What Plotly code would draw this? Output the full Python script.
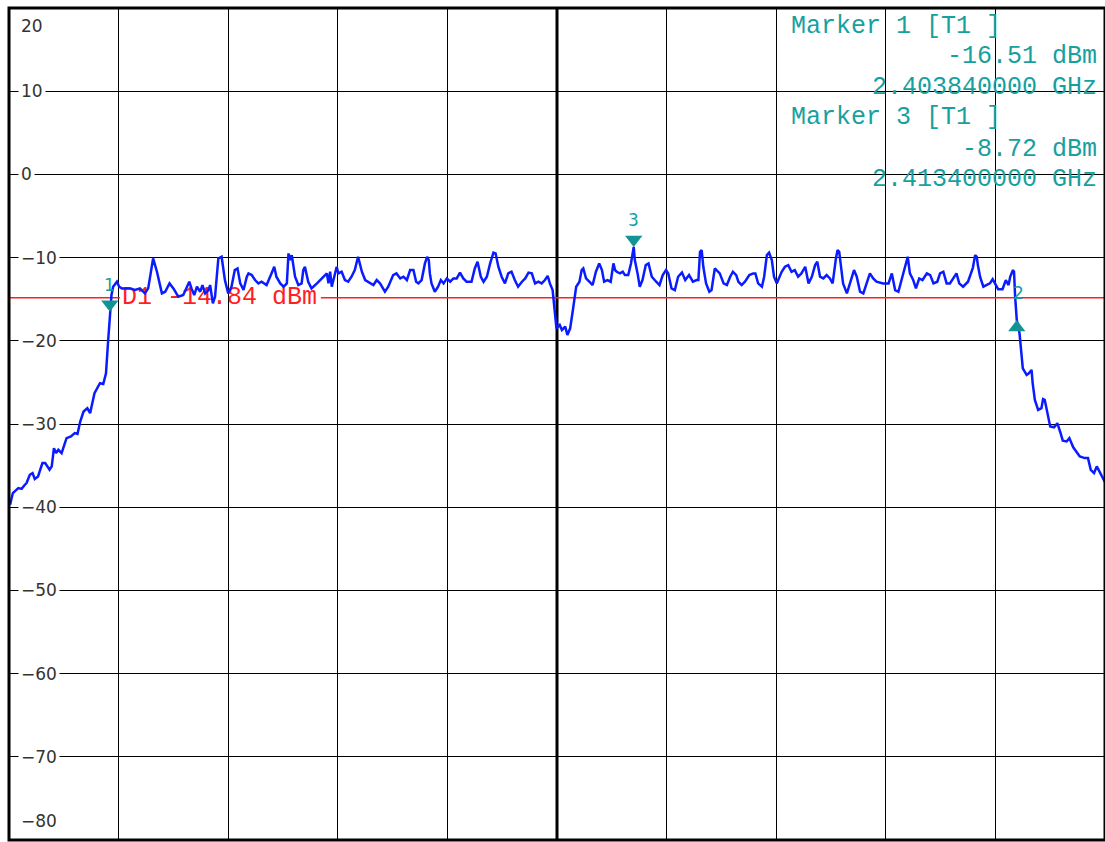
import plotly.graph_objects as go

# ---------------- data ----------------
START_MHZ = 2402.0
STOP_MHZ = 2422.0
CENTER_MHZ = 2412.0

freq_offset_mhz = [
    0.02, 0.07, 0.17, 0.23, 0.29, 0.32, 0.38, 0.43, 0.47, 0.53, 0.61, 0.66, 0.74, 0.78, 0.82, 0.86, 0.90, 0.96,
    1.05, 1.13, 1.20, 1.25, 1.30, 1.36, 1.43, 1.48, 1.56, 1.66, 1.72, 1.77, 1.81, 1.84, 1.87, 1.90, 1.97, 2.01,
    2.06, 2.21, 2.30, 2.39, 2.48, 2.54, 2.63, 2.70, 2.79, 2.85, 2.93, 3.00, 3.09, 3.18, 3.29, 3.33, 3.38, 3.43,
    3.49, 3.53, 3.58, 3.64, 3.67, 3.72, 3.76, 3.82, 3.88, 3.94, 4.00, 4.06, 4.12, 4.17, 4.22, 4.28, 4.34, 4.37,
    4.43, 4.49, 4.55, 4.61, 4.70, 4.79, 4.84, 4.88, 4.95, 5.01, 5.07, 5.10, 5.13, 5.16, 5.22, 5.28, 5.34, 5.37,
    5.40, 5.46, 5.52, 5.62, 5.71, 5.80, 5.83, 5.86, 5.89, 5.95, 5.98, 6.01, 6.07, 6.13, 6.19, 6.25, 6.31, 6.37,
    6.44, 6.50, 6.56, 6.65, 6.71, 6.77, 6.86, 6.92, 7.01, 7.07, 7.14, 7.20, 7.26, 7.32, 7.38, 7.43, 7.47, 7.53,
    7.59, 7.63, 7.66, 7.68, 7.71, 7.77, 7.83, 7.88, 7.93, 7.99, 8.05, 8.11, 8.17, 8.23, 8.29, 8.35, 8.44, 8.50,
    8.55, 8.61, 8.66, 8.72, 8.78, 8.84, 8.88, 8.93, 8.99, 9.05, 9.11, 9.17, 9.23, 9.29, 9.36, 9.42, 9.48, 9.54,
    9.60, 9.66, 9.72, 9.78, 9.83, 9.87, 9.92, 9.96, 9.99, 10.02, 10.05, 10.09, 10.15, 10.19, 10.24, 10.29, 10.35, 10.41,
    10.45, 10.48, 10.53, 10.59, 10.65, 10.71, 10.77, 10.82, 10.86, 10.92, 10.98, 11.03, 11.06, 11.09, 11.15, 11.20, 11.24, 11.30,
    11.35, 11.40, 11.42, 11.47, 11.51, 11.56, 11.62, 11.67, 11.73, 11.81, 11.87, 11.93, 11.99, 12.03, 12.09, 12.15, 12.21, 12.28,
    12.34, 12.41, 12.48, 12.55, 12.58, 12.61, 12.64, 12.67, 12.72, 12.78, 12.82, 12.88, 12.93, 12.97, 13.04, 13.10, 13.16, 13.21,
    13.27, 13.31, 13.37, 13.43, 13.51, 13.58, 13.62, 13.67, 13.74, 13.78, 13.83, 13.87, 13.92, 13.96, 14.01, 14.06, 14.10, 14.16,
    14.22, 14.28, 14.34, 14.40, 14.46, 14.53, 14.59, 14.65, 14.71, 14.75, 14.80, 14.86, 14.92, 14.98, 15.03, 15.09, 15.12, 15.15,
    15.20, 15.22, 15.29, 15.35, 15.42, 15.47, 15.53, 15.59, 15.65, 15.71, 15.77, 15.83, 15.95, 16.05, 16.11, 16.14, 16.17, 16.23,
    16.29, 16.35, 16.40, 16.44, 16.50, 16.55, 16.61, 16.67, 16.75, 16.81, 16.87, 16.94, 16.99, 17.05, 17.11, 17.17, 17.23, 17.29,
    17.34, 17.41, 17.50, 17.59, 17.63, 17.66, 17.68, 17.72, 17.78, 17.84, 17.90, 17.95, 17.99, 18.05, 18.13, 18.19, 18.24, 18.27,
    18.32, 18.34, 18.36, 18.39, 18.44, 18.47, 18.50, 18.57, 18.61, 18.66, 18.68, 18.72, 18.78, 18.84, 18.87, 18.90, 18.95, 19.00,
    19.07, 19.13, 19.18, 19.23, 19.30, 19.35, 19.42, 19.48, 19.54, 19.63, 19.69, 19.74, 19.80, 19.85, 19.91, 19.97, 20.00,
]

level_dbm = [
    -39.7, -38.3, -37.7, -37.8, -37.3, -37.1, -36.1, -35.9, -36.6, -36.3, -34.7, -34.7, -35.5, -35.1, -32.9, -33.5, -33.1, -33.5,
    -31.7, -31.5, -31.1, -31.2, -29.7, -28.5, -28.1, -28.7, -26.3, -25.1, -25.2, -23.9, -19.9, -16.51, -14.5, -13.5, -12.9, -13.5,
    -13.7, -13.7, -13.9, -13.7, -14.3, -13.7, -10.1, -11.7, -14.3, -14.1, -13.1, -13.7, -14.7, -14.5, -12.9, -13.7, -14.5, -13.5,
    -14.1, -13.3, -14.3, -13.9, -13.3, -15.5, -14.7, -10.1, -9.9, -12.7, -14.3, -13.5, -11.5, -11.3, -13.1, -13.9, -12.3, -11.9,
    -12.1, -12.7, -13.1, -12.9, -13.3, -11.9, -11.1, -12.3, -13.1, -13.5, -13.1, -9.5, -10.3, -9.7, -12.3, -13.3, -13.1, -11.5,
    -11.1, -12.9, -13.7, -13.1, -12.5, -11.9, -13.1, -11.7, -13.5, -11.9, -11.1, -11.9, -11.7, -12.7, -12.9, -12.3, -11.5, -9.9,
    -11.7, -12.7, -12.9, -13.3, -12.7, -13.1, -14.1, -13.5, -12.1, -11.9, -12.5, -12.3, -12.7, -11.5, -11.5, -12.9, -13.1, -12.7,
    -10.7, -9.9, -10.3, -11.9, -13.1, -14.1, -13.5, -12.7, -13.1, -12.5, -12.9, -12.5, -12.5, -11.8, -12.5, -12.9, -12.9, -11.3,
    -10.5, -12.3, -12.9, -12.3, -10.7, -9.4, -9.5, -11.1, -12.3, -13.1, -11.9, -11.7, -12.7, -13.5, -12.9, -12.5, -11.8, -11.9,
    -13.1, -12.9, -13.1, -12.7, -12.2, -13.1, -13.9, -16.7, -18.5, -18.3, -18.1, -18.7, -18.3, -19.3, -18.5, -16.3, -13.5, -12.9,
    -11.5, -11.3, -12.5, -12.9, -13.3, -11.7, -10.7, -11.5, -12.9, -12.7, -12.9, -10.7, -11.5, -11.7, -11.9, -11.7, -12.1, -12.1,
    -10.7, -8.72, -10.3, -11.9, -13.5, -12.7, -10.9, -10.7, -12.3, -12.9, -13.3, -12.1, -11.5, -11.9, -13.7, -13.9, -12.3, -11.8,
    -12.7, -12.1, -12.9, -12.7, -12.7, -9.3, -9.1, -11.1, -13.1, -14.1, -13.9, -11.3, -11.7, -11.9, -13.1, -13.3, -12.3, -11.7,
    -12.1, -12.9, -13.3, -12.9, -12.1, -11.9, -11.9, -13.1, -13.5, -12.3, -9.7, -9.4, -10.3, -12.3, -13.1, -12.3, -11.7, -11.1,
    -10.9, -11.7, -11.5, -12.3, -11.9, -11.1, -13.1, -12.3, -10.9, -10.5, -12.3, -12.5, -12.1, -12.5, -13.1, -10.1, -9.1, -9.3,
    -11.9, -13.1, -14.3, -12.9, -11.5, -12.3, -14.1, -14.3, -13.1, -11.9, -12.5, -12.9, -13.1, -13.1, -11.9, -13.1, -13.9, -14.1,
    -12.7, -11.1, -9.9, -11.9, -12.7, -13.7, -12.5, -12.7, -11.9, -12.1, -13.1, -12.9, -11.9, -11.7, -13.1, -13.1, -12.5, -11.9,
    -13.1, -13.5, -12.9, -11.2, -9.7, -9.9, -10.9, -12.3, -13.5, -13.3, -13.1, -12.6, -13.1, -13.8, -13.8, -12.7, -13.3, -12.3,
    -11.5, -11.7, -14.7, -17.5, -19.1, -21.5, -23.3, -24.1, -23.9, -23.5, -25.1, -27.1, -28.3, -28.1, -27.0, -27.1, -28.9, -30.3,
    -30.4, -29.9, -30.9, -32.0, -32.1, -31.7, -32.8, -33.4, -33.9, -34.1, -34.1, -35.5, -35.9, -35.1, -35.9, -36.7, -37.0,
]

marker_labels = ["1", "2", "3"]
marker_freq_mhz = [2403.84, 2420.39, 2413.40]
marker_level_dbm = [-16.51, -17.5, -8.72]
marker_pointing = ["down", "up", "down"]

display_line_dbm = -14.84
display_line_label = "D1 -14.84 dBm"

readout_lines = ["Marker 1 [T1 ]", "-16.51 dBm", "2.403840000 GHz",
                 "Marker 3 [T1 ]", "-8.72 dBm", "2.413400000 GHz"]
readout_align = ["left", "right", "right", "left", "right", "right"]

y_tick_values = [20, 10, 0, -10, -20, -30, -40, -50, -60, -70, -80]
y_tick_labels = ["20", "10", "0", "\u221210", "\u221220", "\u221230", "\u221240",
                 "\u221250", "\u221260", "\u221270", "\u221280"]

# ---------------- style / geometry ----------------
W, H = 1105, 842
ML, MR, MT, MB = 9, 0, 8, 2
PLOT_W = W - ML - MR
PLOT_H = H - MT - MB
Y_MIN, Y_MAX = -80, 20
PX_PER_DB = PLOT_H / (Y_MAX - Y_MIN)
PX_PER_MHZ = PLOT_W / (STOP_MHZ - START_MHZ)

TEAL = "#17a0a0"
TEAL_DARK = "#139494"
BLUE = "#0a1cff"
RED = "#ff1f1f"
MONO = "Liberation Mono, DejaVu Sans Mono, monospace"
SANS = "DejaVu Sans, Arial, sans-serif"

freq_mhz = [START_MHZ + f for f in freq_offset_mhz]

fig = go.Figure()

# display line D1 (with gap where its label sits)
label_x = 2404.06
label_chars = len(display_line_label)
gap_start = label_x - 2 / PX_PER_MHZ
gap_end = label_x + (label_chars * 15 + 4) / PX_PER_MHZ
fig.add_trace(go.Scatter(
    x=[START_MHZ, gap_start, None, gap_end, STOP_MHZ],
    y=[display_line_dbm, display_line_dbm, None, display_line_dbm, display_line_dbm],
    mode="lines", line=dict(color=RED, width=1.5), hoverinfo="skip", connectgaps=False))
fig.add_trace(go.Scatter(
    x=[label_x], y=[display_line_dbm], mode="text", text=[display_line_label],
    textposition="middle right", textfont=dict(family=MONO, size=25, color=RED),
    hoverinfo="skip"))

# spectrum trace
fig.add_trace(go.Scatter(
    x=freq_mhz, y=level_dbm, mode="lines",
    line=dict(color=BLUE, width=2.5), hoverinfo="skip"))

# marker triangles (tip on the trace)
MSIZE = 15
r = MSIZE / 2
for lab, f, lv, d in zip(marker_labels, marker_freq_mhz, marker_level_dbm, marker_pointing):
    if d == "down":
        yc = lv + r / PX_PER_DB
        sym = "triangle-down"
    else:
        yc = lv - r / PX_PER_DB
        sym = "triangle-up"
    fig.add_trace(go.Scatter(
        x=[f], y=[yc], mode="markers",
        marker=dict(symbol=sym, size=MSIZE, color=TEAL_DARK, line=dict(width=0)),
        hoverinfo="skip"))
    fig.add_annotation(
        x=f, y=lv, xref="x", yref="y", text=lab, showarrow=False,
        yshift=27, xshift=2 if d == "up" else 0,
        font=dict(family=SANS, size=17, color=TEAL))

# y tick labels (drawn inside the plot, with white background)
for v, t in zip(y_tick_values, y_tick_labels):
    ys = 0
    if v == Y_MAX:
        ys = -18
    elif v == Y_MIN:
        ys = 19
    fig.add_annotation(
        x=0, xref="paper", y=v, yref="y", text=t, showarrow=False,
        xanchor="left", yanchor="middle", xshift=9, yshift=ys,
        bgcolor="white", borderpad=2,
        font=dict(family=SANS, size=17, color="#333333"))

# marker readout block
readout_y_px = [26, 57, 87, 118, 149, 180]
for t, a, ypx in zip(readout_lines, readout_align, readout_y_px):
    yp = 1 - (ypx - MT) / PLOT_H
    if a == "left":
        xp, xa = (790 - ML) / PLOT_W, "left"
    else:
        xp, xa = (1098 - ML) / PLOT_W, "right"
    fig.add_annotation(
        x=xp, xref="paper", y=yp, yref="paper", text=t, showarrow=False,
        xanchor=xa, yanchor="middle", borderpad=0,
        font=dict(family=MONO, size=25, color=TEAL))

# centre line and frame
fig.add_shape(type="line", x0=CENTER_MHZ, x1=CENTER_MHZ, y0=0, y1=1,
              xref="x", yref="paper", line=dict(color="black", width=3), layer="between")
fig.add_shape(type="rect", x0=0, x1=1, y0=0, y1=1, xref="paper", yref="paper",
              line=dict(color="black", width=3), layer="above")

fig.update_layout(
    width=W, height=H,
    margin=dict(l=ML, r=MR, t=MT, b=MB, pad=0),
    paper_bgcolor="white", plot_bgcolor="white",
    showlegend=False,
    xaxis=dict(range=[START_MHZ, STOP_MHZ], tick0=START_MHZ, dtick=2,
               showgrid=True, gridcolor="black", gridwidth=1,
               showticklabels=False, ticks="", zeroline=False, showline=False, fixedrange=True),
    yaxis=dict(range=[Y_MIN, Y_MAX], tick0=0, dtick=10,
               showgrid=True, gridcolor="black", gridwidth=1,
               showticklabels=False, ticks="", zeroline=False, showline=False, fixedrange=True),
)

fig.write_html("out.html", config={"displayModeBar": False},
               post_script="document.body.style.margin='0';document.body.style.padding='0';")
